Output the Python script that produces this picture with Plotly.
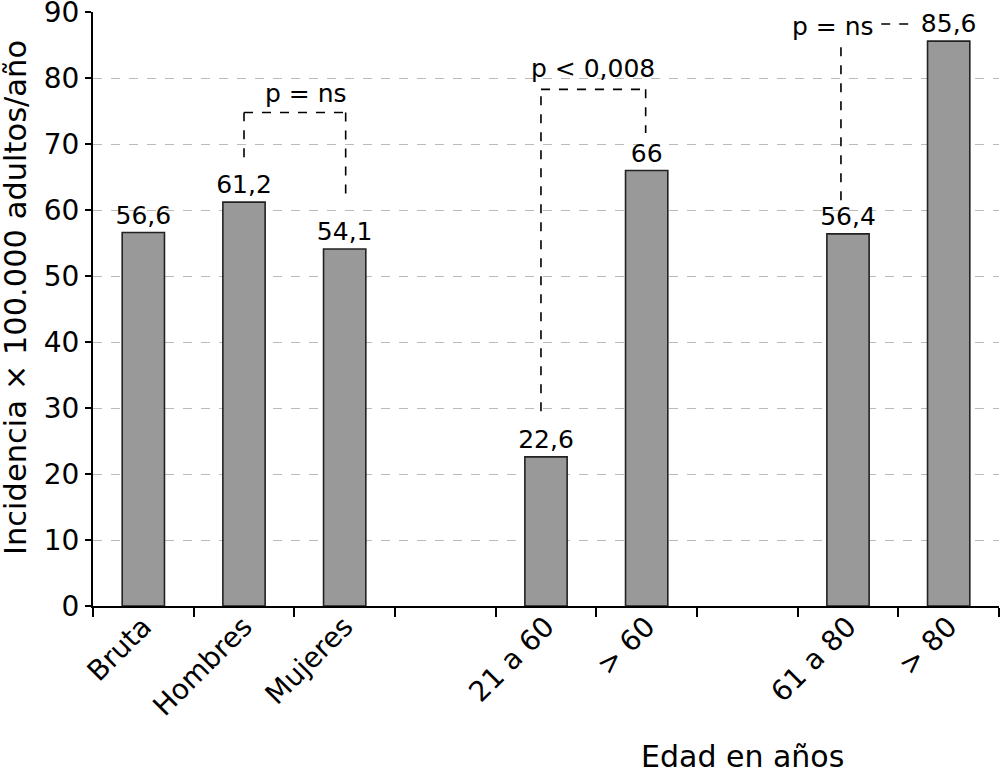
import plotly.graph_objects as go

categories = ["Bruta", "Hombres", "Mujeres", " ", "21 a 60", "> 60", "  ", "61 a 80", "> 80"]
values = [56.6, 61.2, 54.1, None, 22.6, 66, None, 56.4, 85.6]
labels = ["" if v is None else f"{v:g}".replace(".", ",") for v in values]

y_ticks = [0, 10, 20, 30, 40, 50, 60, 70, 80, 90]
y_title = "Incidencia \u00d7 100.000 adultos/a\u00f1o"
x_title = "Edad en a\u00f1os"

FONT = "DejaVu Sans, Liberation Sans, Arial, sans-serif"

fig = go.Figure()
fig.add_trace(go.Bar(
    x=categories, y=values, text=labels, textposition="outside",
    constraintext="none",
    textfont=dict(size=25, color="black", family=FONT),
    marker=dict(color="#999999", line=dict(color="#222222", width=1.6)),
    width=0.42, cliponaxis=False, showlegend=False, hoverinfo="skip",
))

dash = dict(color="black", width=1.6, dash="dash")
brackets = [
    [(1.0, 68.0), (1.0, 74.8), (2.01, 74.8), (2.01, 62.1)],
    [(3.95, 29.5), (3.95, 78.3), (4.99, 78.3), (4.99, 71.7)],
    [(6.93, 61.5), (6.93, 85.0)],
    [(7.33, 88.2), (7.6, 88.2)],
]
for pts in brackets:
    for (x0, y0), (x1, y1) in zip(pts[:-1], pts[1:]):
        fig.add_shape(type="line", xref="x", yref="y", x0=x0, y0=y0, x1=x1, y1=y1, line=dash)

p_texts = [(1.62, 77.7, "p = ns"), (4.47, 81.5, "p < 0,008"), (6.85, 87.8, "p = ns")]
for x, y, t in p_texts:
    fig.add_annotation(x=x, y=y, xref="x", yref="y", text=t, showarrow=False,
                       font=dict(size=25, color="black", family=FONT))

# axis titles as annotations placed relative to the plot area
fig.add_annotation(x=(742 - 93) / 906, y=-(756 - 606) / 594, xref="x domain", yref="y domain",
                   text=x_title, showarrow=False, xanchor="center", yanchor="middle",
                   font=dict(size=30, color="black", family=FONT))
fig.add_annotation(x=-(93 - 15) / 906, y=(606 - 298) / 594, xref="x domain", yref="y domain",
                   text=y_title, showarrow=False, textangle=-90, xanchor="center", yanchor="middle",
                   font=dict(size=30.5, color="black", family=FONT))

fig.update_layout(
    width=1000, height=773,
    margin=dict(l=93, r=1, t=12, b=167),
    plot_bgcolor="white", paper_bgcolor="white",
    font=dict(family=FONT, color="black"),
)
fig.update_xaxes(
    type="category", categoryorder="array", categoryarray=categories,
    tickson="boundaries", ticks="outside", ticklen=9, tickwidth=1.5, tickcolor="black",
    showline=True, linecolor="black", linewidth=2,
    tickangle=-45, tickfont=dict(size=28, family=FONT, color="black"),
    ticklabelstandoff=-9,
    showgrid=False, range=[-0.5, 8.5], automargin=False,
)
fig.update_yaxes(
    range=[0, 90.02], tickvals=y_ticks, ticks="outside", ticklen=6, tickwidth=1.5, tickcolor="black",
    showline=True, linecolor="black", linewidth=2,
    tickfont=dict(size=28, family=FONT, color="black"), ticklabeloverflow="allow",
    ticklabelstandoff=0,
    showgrid=True, gridcolor="#bbbbbb", gridwidth=1.3, griddash="dash",
    zeroline=False, automargin=False,
)

fig.write_html("out.html", config={"displayModeBar": False},
               post_script="document.body.style.margin='0px';")
